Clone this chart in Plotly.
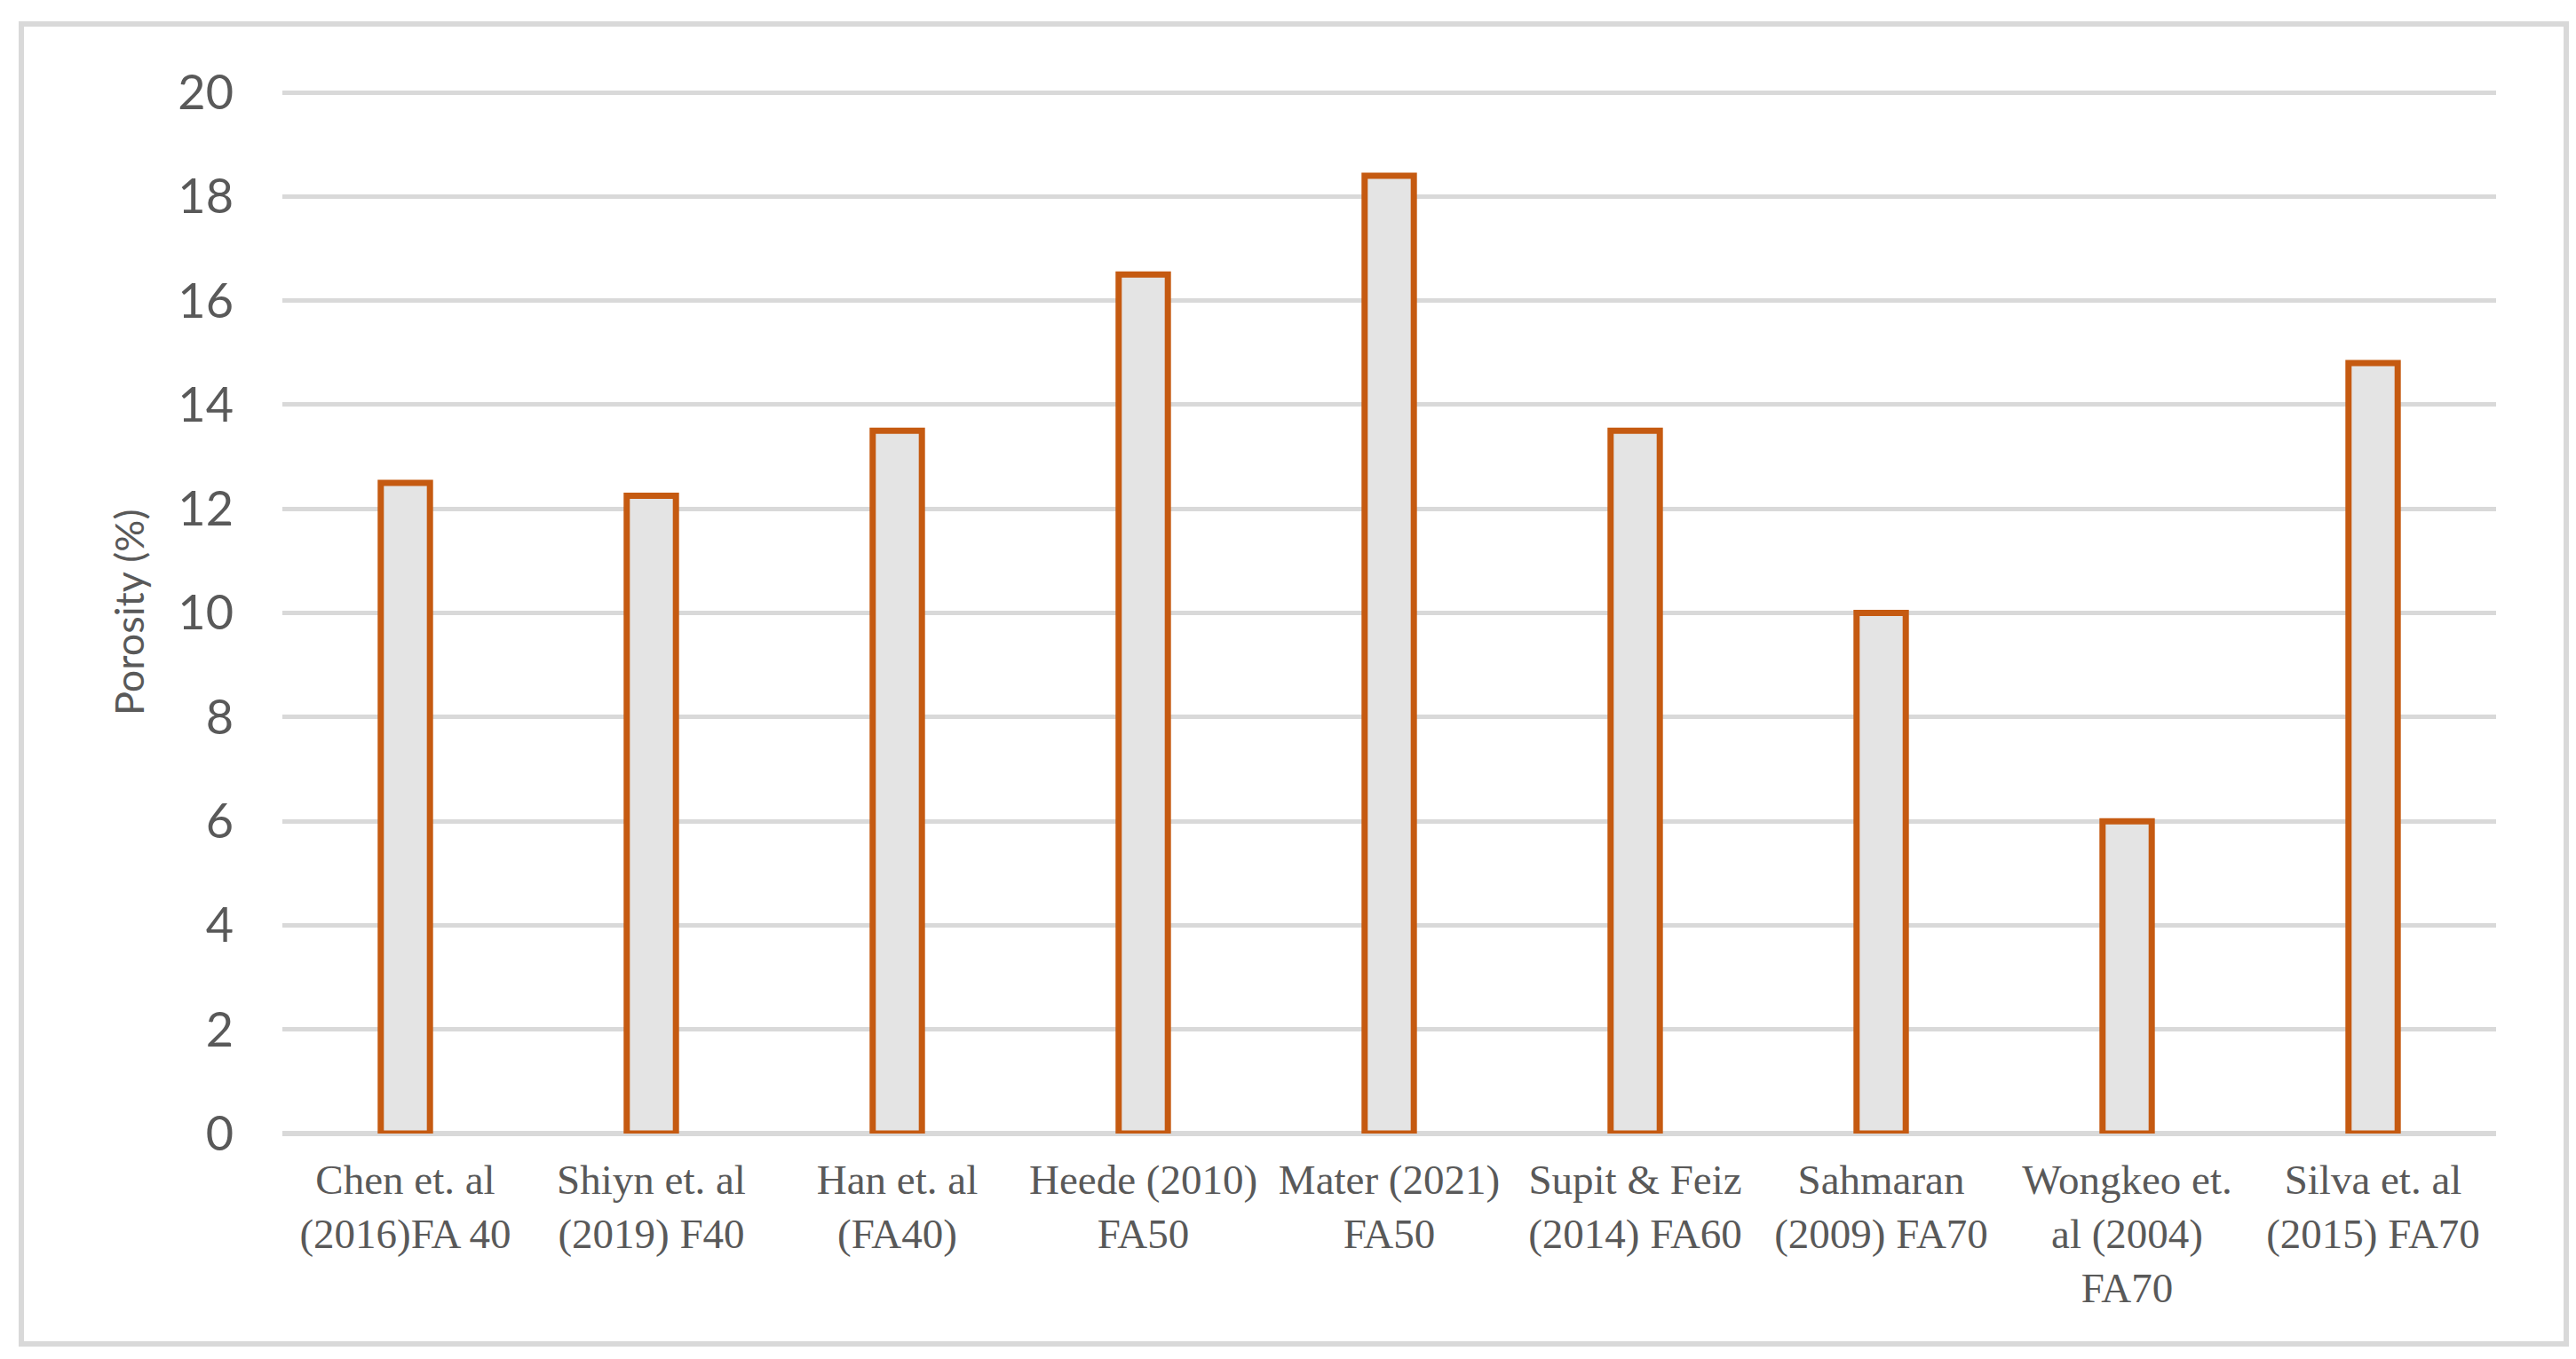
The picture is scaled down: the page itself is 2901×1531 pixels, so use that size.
import plotly.graph_objects as go

categories = [
    "Chen et. al<br>(2016)FA 40",
    "Shiyn et. al<br>(2019) F40",
    "Han et. al<br>(FA40)",
    "Heede (2010)<br>FA50",
    "Mater (2021)<br>FA50",
    "Supit & Feiz<br>(2014) FA60",
    "Sahmaran<br>(2009) FA70",
    "Wongkeo et.<br>al (2004)<br>FA70",
    "Silva et. al<br>(2015) FA70",
]
porosity = [12.5, 12.25, 13.5, 16.5, 18.4, 13.5, 10.0, 6.0, 14.8]
y_ticks = [0, 2, 4, 6, 8, 10, 12, 14, 16, 18, 20]

W, H = 2901, 1531
L, R, T, B = 310, 98, 92, 262
pw, ph = W - L - R, H - T - B

fig = go.Figure()
fig.add_trace(go.Bar(
    x=categories, y=porosity,
    marker=dict(color="#e4e4e4", line=dict(color="#c55a11", width=7)),
    hoverinfo="x+y",
))

def px_x(x):
    return (x - L) / pw

def px_y(y):
    return (H - B - y) / ph

fig.update_layout(
    width=W, height=H,
    margin=dict(l=L, r=R, t=T, b=B),
    paper_bgcolor="white", plot_bgcolor="white",
    bargap=0.8,
    showlegend=False,
    xaxis=dict(
        type="category",
        showgrid=False, zeroline=False, showline=False,
        ticks="", tickfont=dict(family="Liberation Serif", size=47, color="#595959"),
        ticklabelstandoff=20,
    ),
    yaxis=dict(
        range=[0, 20.07], tickvals=y_ticks,
        showgrid=True, gridcolor="#d9d9d9", gridwidth=5,
        zeroline=True, zerolinecolor="#d9d9d9", zerolinewidth=6,
        showline=False, ticks="",
        tickfont=dict(family="Lato", size=54, color="#595959"),
        ticklabelstandoff=54,
    ),
    annotations=[dict(
        text="Porosity (%)", textangle=-90,
        xref="paper", yref="paper", x=px_x(137), y=px_y(682),
        xanchor="center", yanchor="middle", showarrow=False,
        font=dict(family="Lato", size=45, color="#595959"),
    )],
    shapes=[dict(
        type="rect", xref="paper", yref="paper",
        x0=px_x(16), x1=px_x(2882), y0=px_y(1506), y1=px_y(19),
        line=dict(color="#d9d9d9", width=6), fillcolor="rgba(0,0,0,0)",
        layer="below",
    )],
)

fig.write_html("out.html")
